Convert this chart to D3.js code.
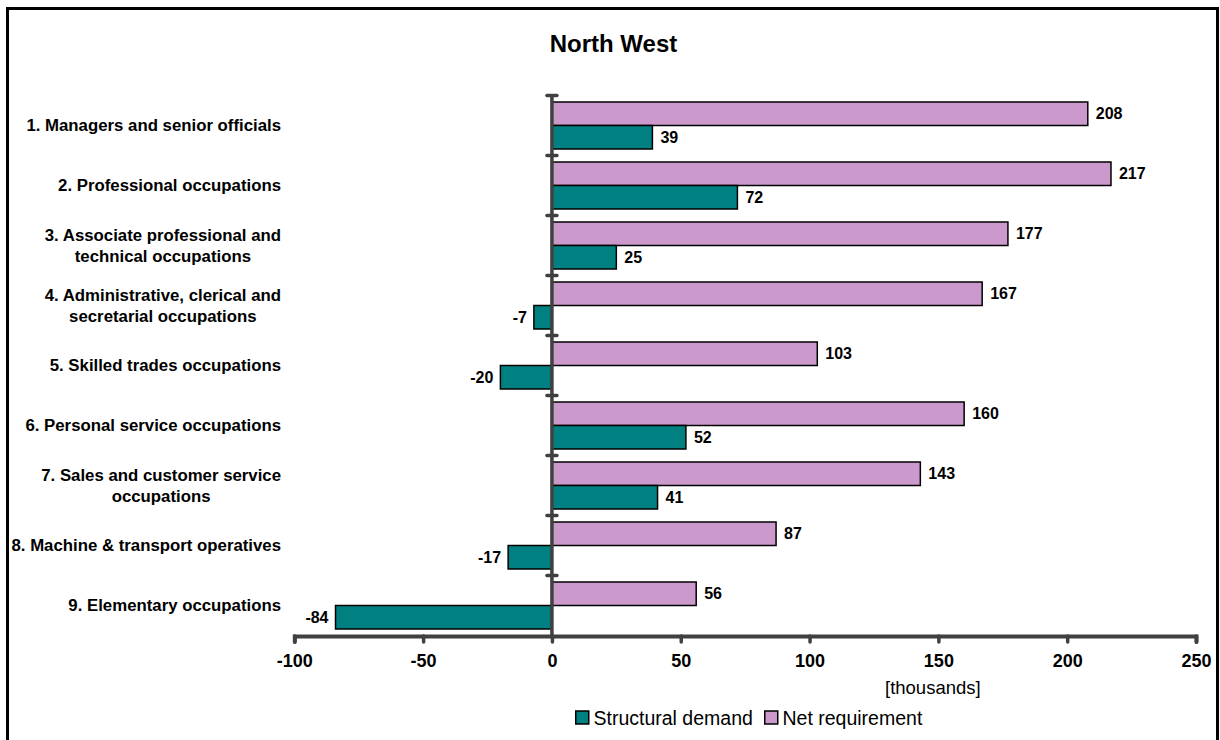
<!DOCTYPE html>
<html>
<head>
<meta charset="utf-8">
<script src="https://cdn.jsdelivr.net/npm/d3@7"></script>
<style>
  html, body { margin: 0; padding: 0; background: #fff; }
  svg { display: block; font-family: "Liberation Sans", Arial, sans-serif; }
</style>
</head>
<body>
<svg id="chart" width="1220" height="740"></svg>
<script>
// Occupation groups (label lines) for the North West region
const categories = [
  ["1. Managers and senior officials"],
  ["2. Professional occupations"],
  ["3. Associate professional and", "technical occupations"],
  ["4. Administrative, clerical and", "secretarial occupations"],
  ["5. Skilled trades occupations"],
  ["6. Personal service occupations"],
  ["7. Sales and customer service", "occupations"],
  ["8. Machine & transport operatives"],
  ["9. Elementary occupations"]
];
const structuralDemand = [39, 72, 25, -7, -20, 52, 41, -17, -84];
const netRequirement = [208, 217, 177, 167, 103, 160, 143, 87, 56];
const xTicks = [-100, -50, 0, 50, 100, 150, 200, 250];
const seriesNames = ["Structural demand", "Net requirement"];

const colors = { structural: "#008080", net: "#CC99CC", axis: "#404040" };

const svg = d3.select("#chart");

// outer frame
svg.append("rect")
  .attr("x", 7.5).attr("y", 8.5)
  .attr("width", 1210).attr("height", 760)
  .attr("fill", "none").attr("stroke", "#000").attr("stroke-width", 3);

// title
svg.append("text")
  .attr("x", 613.5).attr("y", 52)
  .attr("text-anchor", "middle")
  .attr("font-size", 24).attr("font-weight", "bold")
  .text("North West");

const x = d3.scaleLinear().domain([-100, 250]).range([294.3, 1196]);
const idx = d3.range(categories.length);
const y = d3.scaleBand().domain(idx).range([95.5, 635.5]).paddingInner(0).paddingOuter(0);
const bw = y.bandwidth();
const barPad = 6.5;
const barH = (bw - 2 * barPad) / 2;

// bars: net requirement on top, structural demand below
const rows = svg.append("g");
idx.forEach(i => {
  const y0 = y(i);
  const pairs = [
    { v: netRequirement[i], fill: colors.net, yy: y0 + barPad },
    { v: structuralDemand[i], fill: colors.structural, yy: y0 + barPad + barH }
  ];
  pairs.forEach(p => {
    const xa = x(Math.min(0, p.v)), xb = x(Math.max(0, p.v));
    rows.append("rect")
      .attr("x", xa).attr("y", p.yy)
      .attr("width", xb - xa).attr("height", barH)
      .attr("fill", p.fill).attr("stroke", "#000").attr("stroke-width", 1.5);
    rows.append("text")
      .attr("x", p.v >= 0 ? xb + 8 : xa - 7)
      .attr("y", p.yy + barH / 2)
      .attr("dy", "0.35em")
      .attr("text-anchor", p.v >= 0 ? "start" : "end")
      .attr("font-size", 16).attr("font-weight", "bold")
      .text(String(p.v));
  });
});

// vertical zero axis with caps at category boundaries
const yAxis = svg.append("g");
yAxis.append("line")
  .attr("x1", x(0)).attr("x2", x(0))
  .attr("y1", y(0)).attr("y2", 635.5)
  .attr("stroke", colors.axis).attr("stroke-width", 3.5);
d3.range(categories.length).forEach(i => {
  yAxis.append("line")
    .attr("x1", x(0) - 5).attr("x2", x(0) + 5)
    .attr("y1", y(i)).attr("y2", y(i))
    .attr("stroke", colors.axis).attr("stroke-width", 3.5)
    .attr("stroke-linecap", "round");
});

// horizontal value axis
const xAxis = d3.axisBottom(x).tickValues(xTicks).tickSize(6).tickPadding(12).tickFormat(d => String(d));
const gx = svg.append("g").attr("transform", "translate(0,636)").call(xAxis);
gx.select(".domain").attr("stroke", colors.axis).attr("stroke-width", 4).attr("stroke-linecap", "round");
gx.selectAll(".tick line").attr("stroke", colors.axis).attr("stroke-width", 3.5).attr("stroke-linecap", "round");
gx.selectAll(".tick text")
  .attr("fill", "#000").attr("font-size", 18).attr("font-weight", "bold")
  .attr("font-family", "Liberation Sans, Arial, sans-serif");

svg.append("text")
  .attr("x", 885).attr("y", 694)
  .attr("font-size", 18.5)
  .text("[thousands]");

// category labels: block right-aligned, lines centred within block
const catG = svg.append("g");
idx.forEach(i => {
  const lines = categories[i];
  const cy = y(i) + bw / 2;
  const lh = 21;
  const g = catG.append("g");
  const texts = lines.map((l, k) => g.append("text")
    .attr("y", cy + (k - (lines.length - 1) / 2) * lh)
    .attr("dy", "0.35em")
    .attr("font-size", 16.8).attr("font-weight", "bold")
    .text(l));
  const widths = texts.map(t => t.node().getComputedTextLength());
  const blockW = d3.max(widths);
  const centre = 281 - blockW / 2;
  texts.forEach(t => t.attr("x", centre).attr("text-anchor", "middle"));
});

// legend
const legend = svg.append("g");
const legendItems = [
  { name: seriesNames[0], fill: colors.structural, x: 575 },
  { name: seriesNames[1], fill: colors.net, x: 764 }
];
legendItems.forEach(it => {
  legend.append("rect")
    .attr("x", it.x + 0.75).attr("y", 711)
    .attr("width", 13).attr("height", 13)
    .attr("fill", it.fill).attr("stroke", "#000").attr("stroke-width", 1.5);
  legend.append("text")
    .attr("x", it.x + 18.5).attr("y", 724.5)
    .attr("font-size", 19.5)
    .text(it.name);
});
</script>
</body>
</html>
